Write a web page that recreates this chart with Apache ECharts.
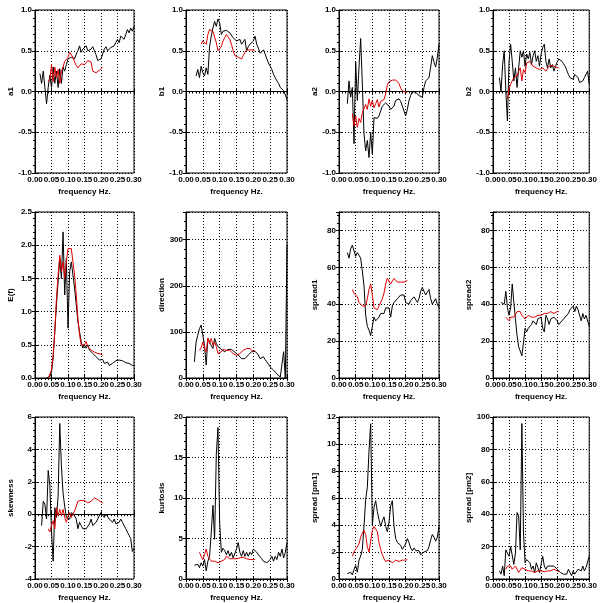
<!DOCTYPE html>
<html>
<head>
<meta charset="utf-8">
<script src="https://cdn.jsdelivr.net/npm/echarts@6/dist/echarts.min.js"></script>
<style>
  html, body { margin: 0; padding: 0; background: #fff; }
  #chart { width: 600px; height: 603px; }
</style>
</head>
<body>
<div id="chart"></div>
<script>
// frequency axes (Hz)
const freqBlack = [0.015,0.02,0.025,0.03,0.035,0.04,0.045,0.05,0.055,0.06,
  0.065,0.07,0.075,0.08,0.085,0.09,0.095,0.1,0.105,0.11,
  0.115,0.12,0.125,0.13,0.135,0.14,0.145,0.15,0.155,0.16,
  0.165,0.17,0.175,0.18,0.185,0.19,0.195,0.2,0.205,0.21,
  0.215,0.22,0.225,0.23,0.235,0.24,0.245,0.25,0.255,0.26,
  0.265,0.27,0.275,0.28,0.285,0.29,0.295,0.3];
const freqRed = [0.04,0.045,0.05,0.055,0.06,0.065,0.07,0.075,0.08,0.085,
  0.09,0.095,0.1,0.105,0.11,0.115,0.12,0.125,0.13,0.135,
  0.14,0.145,0.15,0.155,0.16,0.165,0.17,0.175,0.18,0.185,
  0.19,0.195,0.2,0.205];

// row 1
const a1Black = [0.22,0.1,0.25,0.05,-0.15,0.05,0.2,0.05,0.3,0.1,
  0.25,0.05,0.28,0.1,0.3,0.25,0.33,0.4,0.38,0.42,
  0.44,0.4,0.46,0.5,0.56,0.48,0.52,0.5,0.56,0.5,
  0.48,0.52,0.55,0.5,0.45,0.38,0.36,0.4,0.46,0.52,
  0.55,0.5,0.52,0.54,0.56,0.56,0.6,0.64,0.6,0.68,
  0.66,0.64,0.7,0.76,0.72,0.78,0.74,0.8];
const a1Red = [0.12,0.15,0.33,0.12,0.3,0.17,0.27,0.1,0.25,0.3,
  0.37,0.38,0.42,0.48,0.5,0.42,0.36,0.32,0.29,0.3,
  0.34,0.35,0.33,0.34,0.38,0.4,0.36,0.25,0.24,0.23,
  0.24,0.26,0.28,0.3];

const b1Black = [null,null,null,0.19,0.27,0.17,0.31,0.23,0.19,0.29,
  0.21,0.55,0.68,0.78,0.86,0.8,0.89,0.84,0.7,0.74,
  0.76,0.75,0.74,0.72,0.7,0.66,0.64,0.62,0.6,0.64,
  0.58,0.6,0.64,0.5,0.55,0.58,0.6,0.62,0.68,0.58,
  0.53,0.47,0.49,0.51,0.46,0.4,0.35,0.31,0.27,0.21,
  0.17,0.13,0.1,0.05,0.03,0.01,-0.04,-0.1];
const b1Red = [null,0.58,0.62,0.64,0.58,0.7,0.76,0.75,0.74,0.72,
  0.6,0.5,0.52,0.55,0.62,0.66,0.7,0.68,0.64,0.58,
  0.5,0.44,0.42,0.42,0.41,0.4,0.44,0.48,0.51,0.52,
  0.51,0.51,0.51,0.49];

const a2Black = [null,null,-0.15,0.13,-0.07,0.05,-0.64,0.37,-0.11,0.3,
  0.65,0.09,-0.52,-0.73,-0.6,-0.81,-0.5,-0.77,-0.32,-0.34,
  -0.33,-0.3,-0.24,-0.18,-0.16,-0.14,-0.16,-0.18,-0.22,-0.24,
  -0.18,-0.11,-0.1,-0.09,-0.12,-0.18,-0.24,-0.3,-0.22,-0.11,
  -0.05,0,-0.01,-0.01,-0.03,-0.05,-0.06,-0.07,0.05,0.13,
  0.15,0.17,0.3,0.44,0.36,0.3,0.42,0.58];
const a2Red = [-0.27,-0.42,-0.3,-0.44,-0.33,-0.38,-0.26,-0.27,-0.16,-0.22,
  -0.09,-0.18,-0.11,-0.2,-0.15,-0.1,-0.19,-0.12,-0.13,-0.1,
  -0.03,0.08,0.12,0.13,0.14,0.15,0.14,0.13,0.1,0.04,
  0.01,-0.01,-0.01,-0.01];

const b2Black = [null,0.17,0,0.33,0.5,0,-0.36,0.37,0.58,0.37,
  0.13,0.29,0.05,0.29,0.5,0.42,0.5,0.31,0.46,0.4,
  0.48,0.33,0.44,0.5,0.37,0.44,0.31,0.46,0.54,0.58,
  0.37,0.29,0.4,0.29,0.33,0.25,0.31,0.36,0.4,0.38,
  0.37,0.34,0.31,0.26,0.21,0.17,0.15,0.15,0.21,0.23,
  0.17,0.11,0.12,0.13,0.17,0.19,0.25,0.09];
const b2Red = [null,-0.09,0.03,0.09,0.13,0.17,0.18,0.19,0.25,0.29,
  0.13,0.27,0.23,0.35,0.33,0.37,0.34,0.31,0.3,0.29,
  0.28,0.27,0.28,0.29,0.27,0.25,0.28,0.31,0.33,0.32,
  0.31,0.3,0.29,0.29];

// row 2
const efBlack = [null,null,null,null,0,0,0.02,0.09,0.3,0.7,
  1.1,1.45,1.8,1.5,2.2,1.25,1.8,0.75,1.6,1.75,
  1.75,1.35,1.1,0.85,0.7,0.55,0.45,0.5,0.45,0.5,
  0.42,0.4,0.37,0.34,0.32,0.29,0.27,0.29,0.28,0.22,
  0.24,0.24,0.19,0.2,0.22,0.24,0.26,0.27,0.27,0.27,
  0.26,0.24,0.23,0.22,0.22,0.2,0.19,0.19];
const efRed = [0,0.03,0.12,0.35,0.7,1.2,1.55,1.85,1.6,1.75,
  1.5,1.75,1.95,1.98,1.95,1.75,1.55,1.25,0.9,0.65,
  0.5,0.48,0.5,0.55,0.47,0.44,0.42,0.4,0.39,0.38,
  0.37,0.37,0.36,0.34];

const dirBlack = [null,null,35,78,93,107,115,93,70,28,
  86,82,70,64,86,75,68,70,62,58,
  57,60,62,64,62,60,56,53,50,46,
  42,38,42,46,50,53,57,60,58,57,
  50,42,44,46,40,35,30,24,20,17,
  13,9,6,2,0,57,0,290];
const dirRed = [60,66,78,65,57,86,75,86,71,78,
  68,53,49,57,62,64,60,57,60,58,
  53,51,49,51,53,57,60,64,64,64,
  64,62,57,60];

const spr1Black = [null,null,68,65,70,72,73,66,68,69,
  65,58,50,34,28,26,23,28,33,31,
  32,33,35,36,35,38,39,38,33,39,
  41,40,43,42,45,45,45,41,40,40,
  42,43,44,45,41,43,47,49,48,45,
  46,48,43,40,41,43,40,38];
const spr1Red = [48,46,46,44,41,41,39,38,39,43,
  48,51,45,38,37,37,39,40,43,46,
  51,54,53,51,52,54,53,52,52,52,
  52,52,52,53];

const spr2Black = [null,null,41,42,40,47,38,34,38,51,
  41,32,23,17,16,12,19,27,25,27,
  28,29,31,31,29,32,31,33,27,25,
  34,32,29,32,33,33,34,31,29,30,
  31,32,33,34,35,37,38,39,36,39,
  37,38,31,35,32,34,35,28];
const spr2Red = [33,32,31,33,34,33,34,36,37,36,
  34,33,32,33,34,34,33,32,33,34,
  34,33,34,35,35,34,35,36,36,35,
  35,35,36,36];

// row 3
const skewBlack = [null,-0.7,0.8,0.6,-0.3,2.7,1.8,-1.1,-2.9,0.4,
  -0.2,1.1,5.6,3.0,1.3,0.5,-0.2,-0.1,-0.3,0.1,
  0.2,-0.1,-0.3,-0.9,-0.5,-0.7,-0.9,-1.0,-0.9,-0.8,
  -0.6,-0.3,-0.7,-0.6,-0.5,-0.3,-0.4,0.1,0,-0.2,
  0,-0.1,-0.3,-0.4,-0.5,-0.3,-0.6,-0.6,-0.5,-0.3,
  -0.5,-0.7,-0.9,-1.1,-1.3,-1.5,-2.3,-2.1];
const skewRed = [-0.9,-1.1,-0.7,-0.4,-0.9,0.4,-0.1,0.3,-0.1,0.3,
  -0.2,-0.5,-0.1,0.1,-0.2,0,0.2,0.5,0.8,0.9,
  0.85,0.8,0.85,0.9,0.7,0.6,0.8,0.9,1.0,0.95,
  0.9,0.8,0.75,0.7];

const kurtBlack = [null,null,1.7,1.6,1.8,1.4,2.0,1.6,2.4,1.0,
  2.2,2.8,5.7,9.1,4.9,15.4,18.7,6.9,3.3,3.8,
  3.5,3.0,3.5,2.8,3.3,2.6,2.8,3.7,4.5,3.3,
  2.8,3.5,2.8,3.3,2.8,3.3,3.0,3.7,3.5,3.3,
  3.0,2.8,2.5,2.2,2.1,2.0,2.2,2.4,2.8,2.2,
  2.8,2.4,3.3,2.8,3.7,2.6,3.3,4.5];
const kurtRed = [3.3,2.8,2.4,3.0,3.7,2.8,2.6,2.2,2.0,2.2,
  2.2,2.0,2.1,2.2,2.3,2.4,2.8,2.6,2.5,2.4,
  2.5,2.6,2.5,2.4,2.6,2.8,2.7,2.6,2.5,2.4,
  2.4,2.4,2.4,2.4];

const pm1Black = [null,null,0.4,0.3,0.5,0.3,0.7,1.0,0.5,1.4,
  1.7,2.2,3.9,5.9,6.8,9.5,11.5,4.0,5.3,5.8,
  5.0,4.4,3.9,4.3,4.6,3.9,3.5,4.2,5.4,5.8,
  3.9,3.0,2.7,2.8,2.5,2.2,2.4,2.6,3.0,2.7,
  2.3,2.1,2.3,2.1,2.0,2.1,1.8,1.8,2.0,2.1,
  2.1,2.4,2.9,3.3,3.1,2.8,3.1,3.9];
const pm1Red = [1.7,2.0,2.2,2.1,2.6,3.1,3.4,3.6,3.3,2.4,
  2.0,2.8,3.6,3.9,3.8,3.5,2.7,2.2,1.8,1.5,
  1.3,1.2,1.4,1.3,1.2,1.2,1.4,1.3,1.3,1.4,
  1.4,1.4,1.4,1.45];

const pm2Black = [null,5,3,8,2,18,19,14,20,19,
  9,16,41,39,18,96,29,10,12,13,
  10,6,8,4,10,7,4,9,14,8,
  6,8,7,8,9,8,7,6,5,4,
  3,3,4,3,6,4,2,5,3,4,
  6,7,5,8,5,7,6,14];
const pm2Red = [6,8,7,8,6,7,8,6,4,5,
  7,7,6,6,5,5,5,5,4,4,
  5,5,5,5,4.5,4.5,5,5,5,5,
  6,6,5,4.5];

const yNames = ['a1', 'b1', 'a2', 'b2', 'E(f)', 'direction', 'spread1', 'spread2',
  'skewness', 'kurtosis', 'spread [pm1]', 'spread [pm2]'];
const yMin = [-1, -1, -1, -1, 0, 0, 0, 0, -4, 0, 0, 0];
const yMax = [1, 1, 1, 1, 2.5, 360, 90, 90, 6, 20, 12, 100];
const yStep = [0.5, 0.5, 0.5, 0.5, 0.5, 100, 20, 20, 2, 5, 2, 20];
const yDigits = [1, 1, 1, 1, 1, 0, 0, 0, 0, 0, 0, 0];
const blackSets = [a1Black, b1Black, a2Black, b2Black, efBlack, dirBlack, spr1Black, spr2Black,
  skewBlack, kurtBlack, pm1Black, pm2Black];
const redSets = [a1Red, b1Red, a2Red, b2Red, efRed, dirRed, spr1Red, spr2Red,
  skewRed, kurtRed, pm1Red, pm2Red];

// panel layout
const colLeft = [35, 186, 339, 493];
const colWidth = [99, 101, 100, 101];
const rowTop = [10, 212, 417];
const rowHeight = [163, 166, 165];

const txt = { fontSize: 8, fontWeight: 'bold', color: '#000', fontFamily: 'Liberation Sans' };
const dotted = { show: true, lineStyle: { color: '#000', type: [1, 2], width: 1 } };

function pairs(xs, ys) {
    const out = [];
    ys.forEach((v, k) => { if (v !== null) out.push([xs[k], v]); });
    return out;
}

const grids = [], xAxes = [], yAxes = [], series = [];

yNames.forEach((name, i) => {
    const row = Math.floor(i / 4), col = i % 4;
    grids.push({
        left: colLeft[col], top: rowTop[row], width: colWidth[col], height: rowHeight[row],
        show: true, borderColor: '#000', borderWidth: 1, backgroundColor: 'transparent'
    });

    // bottom axis with labels, top axis only ticks
    xAxes.push({
        gridIndex: i, type: 'value', min: 0, max: 0.3, interval: 0.05, position: 'bottom',
        axisLine: { show: true, lineStyle: { color: '#000' } },
        axisTick: { show: true, inside: true, length: 3, lineStyle: { color: '#000' } },
        axisLabel: { ...txt, margin: 3, formatter: v => v.toFixed(2) },
        name: 'frequency Hz.', nameLocation: 'middle', nameGap: 15, nameTextStyle: txt,
        splitLine: dotted
    });
    xAxes.push({
        gridIndex: i, type: 'value', min: 0, max: 0.3, interval: 0.05, position: 'top',
        axisLine: { show: false }, axisLabel: { show: false },
        axisTick: { show: true, inside: true, length: 3, lineStyle: { color: '#000' } },
        minorTick: { show: true, splitNumber: 5, length: 2, lineStyle: { color: '#000' } },
        splitLine: { show: false }
    });

    const d = yDigits[i];
    yAxes.push({
        gridIndex: i, type: 'value', min: yMin[i], max: yMax[i], interval: yStep[i], position: 'left',
        axisLine: { show: true, lineStyle: { color: '#000' } },
        axisTick: { show: true, inside: true, length: 3, lineStyle: { color: '#000' } },
        axisLabel: {
            ...txt, margin: 3,
            formatter: v => (Math.abs(v / yStep[i] - Math.round(v / yStep[i])) > 1e-6 ? '' : v.toFixed(d))
        },
        name: name, nameLocation: 'middle', nameGap: 20, nameRotate: 90, nameTextStyle: txt,
        splitLine: dotted
    });
    yAxes.push({
        gridIndex: i, type: 'value', min: yMin[i], max: yMax[i], interval: yStep[i], position: 'right',
        axisLine: { show: false }, axisLabel: { show: false },
        axisTick: { show: true, inside: true, length: 3, lineStyle: { color: '#000' } },
        minorTick: { show: true, splitNumber: 5, length: 2, lineStyle: { color: '#000' } },
        splitLine: { show: false }
    });

    series.push({
        type: 'line', xAxisIndex: 2 * i, yAxisIndex: 2 * i, showSymbol: false,
        data: pairs(freqBlack, blackSets[i]),
        lineStyle: { color: '#000', width: 1 }, itemStyle: { color: '#000' }
    });
    series.push({
        type: 'line', xAxisIndex: 2 * i, yAxisIndex: 2 * i, showSymbol: false,
        data: pairs(freqRed, redSets[i]),
        lineStyle: { color: '#e00000', width: 1 }, itemStyle: { color: '#e00000' }
    });
});

const chart = echarts.init(document.getElementById('chart'));
chart.setOption({
    backgroundColor: '#fff',
    animation: false,
    grid: grids,
    xAxis: xAxes,
    yAxis: yAxes,
    series: series
});
</script>
</body>
</html>
